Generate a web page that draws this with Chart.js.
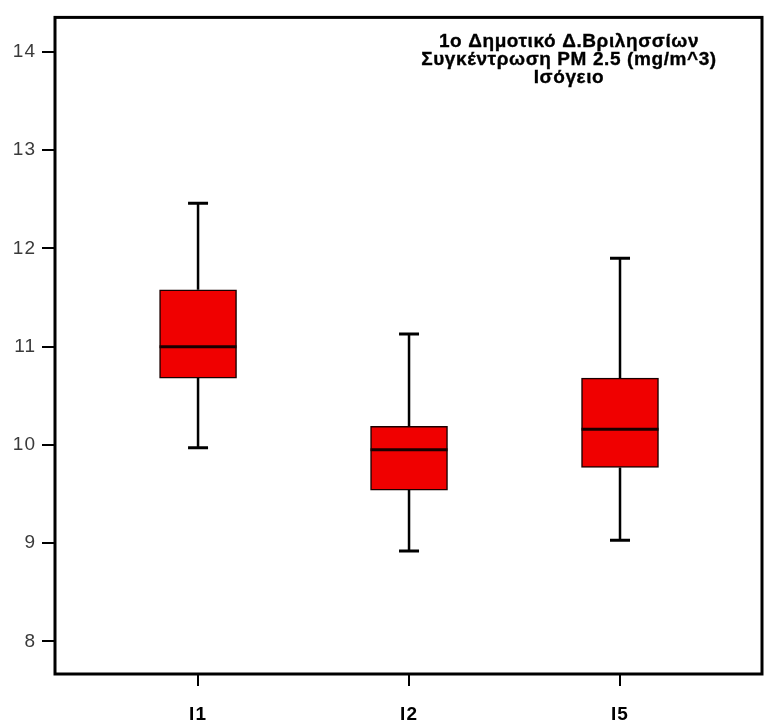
<!DOCTYPE html>
<html>
<head>
<meta charset="utf-8">
<script src="https://cdn.jsdelivr.net/npm/chart.js@4"></script>
<style>
  html, body { margin: 0; padding: 0; background: #fff; }
  #wrap { width: 765px; height: 728px; }
</style>
</head>
<body>
<div id="wrap"><canvas id="pmChart"></canvas></div>
<script>
const categories = ['I1', 'I2', 'I5'];
const positions = [1, 2, 3];
const whiskerLow = [9.97, 8.92, 9.03];
const q1 = [10.68, 9.54, 9.77];
const median = [11.0, 9.95, 10.16];
const q3 = [11.58, 10.19, 10.68];
const whiskerHigh = [12.46, 11.13, 11.90];
const yTicks = [8, 9, 10, 11, 12, 13, 14];
const titleLines = ['1o Δημοτικό Δ.Βριλησσίων', 'Συγκέντρωση PM 2.5 (mg/m^3)', 'Ισόγειο'];

const FONT = '"Liberation Sans", Arial, sans-serif';

// slightly wider text spacing for every label on the canvas
const wideText = {
    id: 'wideText',
    beforeDraw(chart) {
        chart.ctx.letterSpacing = '1px';
    }
};

// whiskers, caps and median line on top of the floating bars
const boxWhiskers = {
    id: 'boxWhiskers',
    afterDatasetsDraw(chart) {
        const ctx = chart.ctx;
        const xs = chart.scales.x, ys = chart.scales.y;
        const bars = chart.getDatasetMeta(0).data;
        ctx.save();
        ctx.strokeStyle = '#000';
        positions.forEach((p, i) => {
            const cx = xs.getPixelForValue(p);
            const half = bars[i].width / 2;
            const capHalf = 10;
            const yHi = ys.getPixelForValue(whiskerHigh[i]);
            const yLo = ys.getPixelForValue(whiskerLow[i]);
            ctx.lineWidth = 2.5;
            ctx.beginPath();
            ctx.moveTo(cx, ys.getPixelForValue(q3[i]));
            ctx.lineTo(cx, yHi);
            ctx.moveTo(cx, ys.getPixelForValue(q1[i]));
            ctx.lineTo(cx, yLo);
            ctx.stroke();
            ctx.lineWidth = 3;
            ctx.beginPath();
            ctx.moveTo(cx - capHalf, yHi);
            ctx.lineTo(cx + capHalf, yHi);
            ctx.moveTo(cx - capHalf, yLo);
            ctx.lineTo(cx + capHalf, yLo);
            ctx.stroke();
            const ym = ys.getPixelForValue(median[i]);
            ctx.strokeStyle = '#1a0000';
            ctx.beginPath();
            ctx.moveTo(cx - half, ym);
            ctx.lineTo(cx + half, ym);
            ctx.stroke();
            ctx.strokeStyle = '#000';
        });
        ctx.restore();
    }
};

// frame round the plot and the title block inside it
const frameAndTitle = {
    id: 'frameAndTitle',
    afterDraw(chart) {
        const ctx = chart.ctx;
        const a = chart.chartArea;
        ctx.save();
        ctx.strokeStyle = '#000';
        ctx.lineWidth = 3;
        ctx.strokeRect(a.left, a.top, a.right - a.left, a.bottom - a.top);
        ctx.fillStyle = '#000';
        ctx.font = 'bold 19px ' + FONT;
        ctx.letterSpacing = '0.6px';
        ctx.textAlign = 'center';
        ctx.textBaseline = 'middle';
        ctx.lineWidth = 0.35;
        titleLines.forEach((t, i) => {
            ctx.fillText(t, 569, 42 + i * 18);
            ctx.strokeText(t, 569, 42 + i * 18);
        });
        ctx.restore();
    }
};

const ctx = document.getElementById('pmChart').getContext('2d');
const pmChart = new Chart(ctx, {
    type: 'bar',
    data: {
        datasets: [{
            data: positions.map((p, i) => ({ x: p, y: [q1[i], q3[i]] })),
            backgroundColor: '#f00000',
            borderColor: '#1a0000',
            borderWidth: 1.5,
            borderSkipped: false,
            barThickness: 77
        }]
    },
    plugins: [wideText, boxWhiskers, frameAndTitle],
    options: {
        responsive: true,
        maintainAspectRatio: false,
        animation: false,
        layout: { padding: { top: 10, right: 3, left: 0, bottom: 0 } },
        plugins: {
            legend: { display: false },
            tooltip: { enabled: false }
        },
        scales: {
            x: {
                type: 'linear',
                min: 0.322,
                max: 3.673,
                offset: false,
                afterBuildTicks: scale => { scale.ticks = positions.map(v => ({ value: v })); },
                afterFit: scale => { scale.height = 54; },
                grid: { offset: false, drawOnChartArea: false, drawTicks: true, tickLength: 12, color: '#000', lineWidth: 2 },
                border: { display: false },
                ticks: {
                    padding: 17,
                    color: '#000',
                    font: { family: FONT, size: 19, weight: 'bold' },
                    callback: (value, index) => categories[index]
                }
            },
            y: {
                min: 7.668,
                max: 14.352,
                afterBuildTicks: scale => { scale.ticks = yTicks.map(v => ({ value: v })); },
                afterFit: scale => { scale.width = 55; },
                grid: { drawOnChartArea: false, drawTicks: true, tickLength: 13, color: '#000', lineWidth: 2 },
                border: { display: false },
                ticks: {
                    padding: 6,
                    color: '#3a3a3a',
                    font: { family: FONT, size: 19 }
                }
            }
        }
    }
});
</script>
</body>
</html>
